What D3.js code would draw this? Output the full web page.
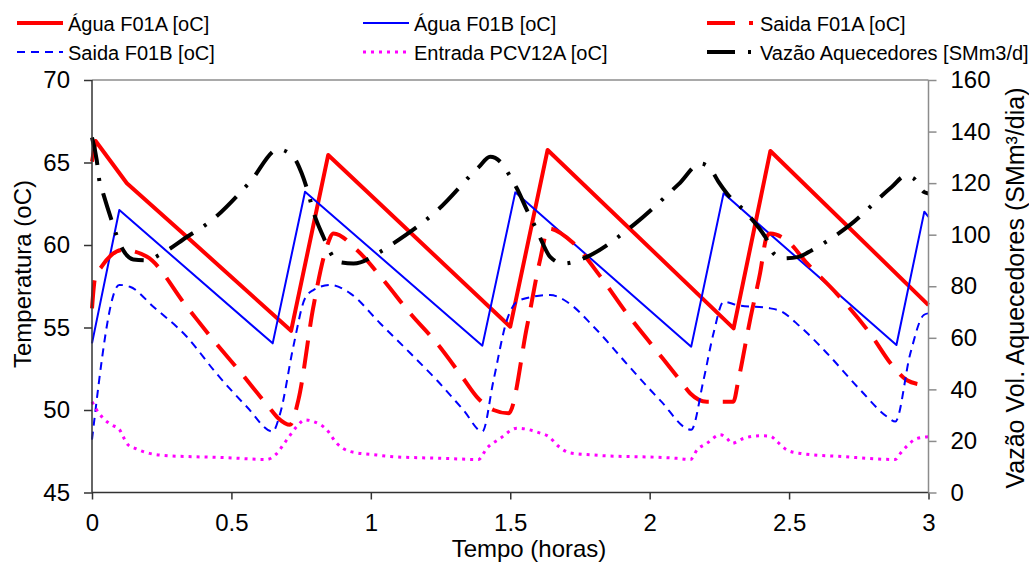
<!DOCTYPE html>
<html><head><meta charset="utf-8">
<script src="https://cdn.jsdelivr.net/npm/d3@7/dist/d3.min.js"></script>
<style>
html,body{margin:0;padding:0;background:#fff;}
text{font-family:"Liberation Sans",Arial,sans-serif;fill:#000;}
</style></head>
<body><svg id="c" width="1029" height="564"></svg>
<script>
// ---- data ----
const seriesNames = ["Água F01A [oC]","Água F01B [oC]","Saida F01A [oC]","Saida F01B [oC]","Entrada PCV12A [oC]","Vazão Aquecedores [SMm3/d]"];
const xTicks = [0,0.5,1,1.5,2,2.5,3];
const xTickLabels = ["0","0.5","1","1.5","2","2.5","3"];
const yLeftTicks = [45,50,55,60,65,70];
const yRightTicks = [0,20,40,60,80,100,120,140,160];

const tAguaA = [0,0.013,0.125,0.34,0.714,0.847,1.50,1.634,2.301,2.433,3.0];
const vAguaA = [65.05,66.3,63.74,60.5,54.8,65.45,55.05,65.76,54.95,65.7,56.36];

const tAguaB = [0,0.098,0.648,0.764,1.40,1.518,2.149,2.265,2.885,2.985,3.0];
const vAguaB = [54.04,62.12,54.04,63.23,53.9,63.19,53.84,63.13,53.94,62.02,61.7];

const tSaidaA = [0,0.011,0.035,0.07,0.11,0.196,0.34,0.435,0.531,0.633,0.668,0.71,0.74,0.794,0.842,0.866,0.95,1.045,1.141,1.237,1.332,1.38,1.44,1.494,1.56,1.607,1.637,1.727,1.823,1.918,2.013,2.109,2.146,2.205,2.3,2.318,2.36,2.396,2.42,2.433,2.49,2.564,2.67,2.79,2.875,2.923,2.96];
const vSaidaA = [56.16,58.0,58.7,59.4,59.7,59.3,56.26,54.24,52.32,50.2,49.5,49.1,50.6,56.26,59.9,60.7,59.7,57.88,55.86,54.04,51.9,50.8,50.0,49.8,55.05,59.1,61.0,60.1,58.1,55.86,53.84,51.8,51.0,50.5,50.5,51.8,55.45,58.3,60.5,60.7,60.3,58.9,57.07,54.65,52.6,51.8,51.58];

const tSaidaB = [0,0.098,0.136,0.22,0.34,0.447,0.555,0.648,0.675,0.722,0.764,0.794,0.854,0.926,1.033,1.141,1.237,1.332,1.40,1.44,1.488,1.524,1.583,1.643,1.703,1.799,1.918,2.037,2.149,2.193,2.229,2.265,2.313,2.433,2.469,2.54,2.636,2.756,2.851,2.881,2.935,2.983,3.0];
const vSaidaB = [48.2,57.58,57.47,56.26,54.44,52.2,50.2,48.7,49.8,53.84,56.77,57.27,57.58,57.07,55.26,53.45,51.8,50.0,48.7,51.8,55.45,56.56,56.87,56.97,56.56,55.05,52.8,50.6,48.8,51.8,54.65,56.56,56.36,56.16,56.0,55.05,53.44,51.2,49.6,49.3,53.44,55.76,55.86];

const tEntrada = [0,0.017,0.04,0.07,0.098,0.112,0.13,0.154,0.206,0.28,0.364,0.483,0.627,0.657,0.699,0.734,0.764,0.794,0.842,0.878,0.926,1.021,1.081,1.26,1.386,1.416,1.464,1.524,1.607,1.637,1.673,1.715,1.799,2.098,2.146,2.17,2.205,2.253,2.277,2.295,2.337,2.397,2.433,2.457,2.492,2.54,2.696,2.881,2.899,2.923,2.959,3.0];
const vEntrada = [50.5,50.0,49.5,49.1,48.83,48.38,47.88,47.68,47.37,47.22,47.17,47.11,47.0,47.27,48.2,48.99,49.4,49.3,48.8,47.98,47.48,47.27,47.17,47.07,47.0,47.68,48.28,48.9,48.6,48.4,47.8,47.4,47.27,47.07,47.0,47.58,47.98,48.5,48.28,47.98,48.28,48.44,48.42,48.08,47.58,47.37,47.17,47.0,47.37,47.82,48.28,48.38];

const tVazao = [0,0.017,0.026,0.04,0.07,0.088,0.112,0.148,0.196,0.244,0.34,0.423,0.567,0.668,0.722,0.752,0.776,0.794,0.83,0.854,0.884,0.938,1.033,1.081,1.243,1.386,1.428,1.464,1.5,1.524,1.56,1.59,1.614,1.643,1.691,1.727,1.775,1.948,2.104,2.182,2.217,2.247,2.277,2.349,2.421,2.445,2.48,2.534,2.582,2.714,2.869,2.917,2.947,2.983,3.0];
const vVazao = [137.7,128.9,121.2,116,105.6,99.8,94,90.4,90.1,92.3,99.1,105,120.5,133.1,130.2,123.8,116,108.9,99.1,93.3,89.4,88.8,93.3,96.6,109.9,126.1,130.2,128.3,122.5,117.9,109.5,103,97.2,91.4,88.8,89.4,91.4,104.3,119.6,127.6,125.7,120.5,116,108.2,97.9,92.7,90.8,91.4,94,103.4,118.6,122.8,121.8,116.6,116];

// ---- layout ----
const L = 92, R = 928.5, T = 80, B = 492.5;
const svg = d3.select("#c");
const x = d3.scaleLinear().domain([0,3]).range([L,R]);
const yL = d3.scaleLinear().domain([45,70]).range([B,T]);
const yR = d3.scaleLinear().domain([0,160]).range([B,T]);

// frame: top and right in gray
svg.append("line").attr("x1",L).attr("x2",R).attr("y1",T).attr("y2",T).attr("stroke","#8c8c8c").attr("stroke-width",1.5);

const styles = [
  {t:tAguaA,v:vAguaA,axis:yL,color:"#ff0000",w:4,dash:null,curve:d3.curveLinear},
  {t:tAguaB,v:vAguaB,axis:yL,color:"#0000ff",w:2,dash:null,curve:d3.curveLinear},
  {t:tSaidaA,v:vSaidaA,axis:yL,color:"#ff0000",w:4,dash:"28,14",curve:d3.curveMonotoneX},
  {t:tSaidaB,v:vSaidaB,axis:yL,color:"#0000ff",w:2,dash:"8,6",curve:d3.curveMonotoneX},
  {t:tEntrada,v:vEntrada,axis:yL,color:"#ff00ff",w:3,dash:"3,5",curve:d3.curveMonotoneX},
  {t:tVazao,v:vVazao,axis:yR,color:"#000000",w:4,dash:"28,13,3,13",curve:d3.curveMonotoneX}
];

styles.forEach(s=>{
  const pts = d3.zip(s.t,s.v);
  const line = d3.line().x(d=>x(d[0])).y(d=>s.axis(d[1])).curve(s.curve);
  const p = svg.append("path").datum(pts).attr("d",line)
    .attr("fill","none").attr("stroke",s.color).attr("stroke-width",s.w)
    .attr("stroke-linejoin","round");
  if(s.dash) p.attr("stroke-dasharray",s.dash);
});

// axes
const fs = 24;
const gx = svg.append("g").attr("transform",`translate(0,${B})`)
  .call(d3.axisBottom(x).tickValues(xTicks).tickFormat((d,i)=>xTickLabels[i]).tickSize(7).tickPadding(14));
const gl = svg.append("g").attr("transform",`translate(${L},0)`)
  .call(d3.axisLeft(yL).tickValues(yLeftTicks).tickSize(8).tickPadding(14));
const gr = svg.append("g").attr("transform",`translate(${R},0)`)
  .call(d3.axisRight(yR).tickValues(yRightTicks).tickSize(8).tickPadding(14));
[gx,gl].forEach(g=>{g.selectAll("path,line").attr("stroke","#333").attr("stroke-width",1.5);});
gr.selectAll("path,line").attr("stroke","#8c8c8c").attr("stroke-width",1.5);
[gx,gl,gr].forEach(g=>{g.select(".domain").attr("d",null);
  g.selectAll("text").attr("font-size",fs).attr("font-family","Liberation Sans, Arial, sans-serif").attr("fill","#000");});
// axis lines
svg.append("line").attr("x1",L).attr("x2",R).attr("y1",B).attr("y2",B).attr("stroke","#333").attr("stroke-width",1.5);
svg.append("line").attr("x1",L).attr("x2",L).attr("y1",T).attr("y2",B).attr("stroke","#333").attr("stroke-width",1.5);
svg.append("line").attr("x1",R).attr("x2",R).attr("y1",T).attr("y2",B).attr("stroke","#8c8c8c").attr("stroke-width",1.5);

// axis titles
svg.append("text").attr("x",529).attr("y",557).attr("text-anchor","middle").attr("font-size",24).text("Tempo (horas)");
svg.append("text").attr("transform","translate(31,274) rotate(-90)").attr("text-anchor","middle").attr("font-size",24).text("Temperatura (oC)");
svg.append("text").attr("transform","translate(1024,288) rotate(-90)").attr("text-anchor","middle").attr("font-size",25).text("Vazão Vol. Aquecedores (SMm³/dia)");

// legend
const legPos = [[17,23],[363,23],[707,23],[17,52],[363,52],[707,52]];
const legOrder = [0,1,2,3,4,5];
legOrder.forEach((si,i)=>{
  const s = styles[si];
  const [lx,ly] = legPos[i];
  const len = 46;
  const ln = svg.append("line").attr("x1",lx).attr("x2",lx+len).attr("y1",ly).attr("y2",ly)
    .attr("stroke",s.color).attr("stroke-width",s.w);
  if(s.dash) ln.attr("stroke-dasharray",s.dash);
  svg.append("text").attr("x",lx+len+(i%3===2?7:5)).attr("y",ly+8).attr("font-size",20).text(seriesNames[si]);
});
</script></body></html>
